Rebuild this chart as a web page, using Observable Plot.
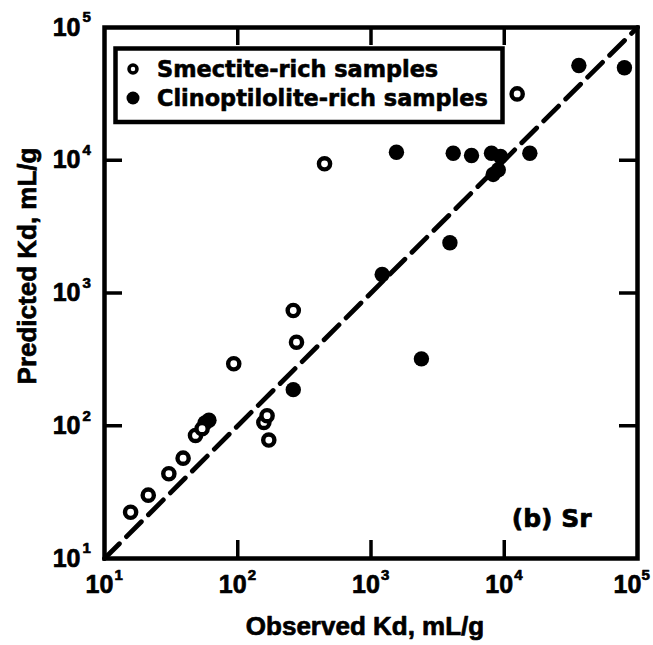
<!DOCTYPE html>
<html>
<head>
<meta charset="utf-8">
<script src="https://cdn.jsdelivr.net/npm/d3@7"></script>
<script src="https://cdn.jsdelivr.net/npm/@observablehq/plot@0.6"></script>
<style>
  html, body { margin: 0; padding: 0; background: white; }
</style>
</head>
<body>
<div id="chart"></div>
<script>
// ---- data ----
const smectiteObserved  = [15.7, 21.3, 30.4, 38.9, 48.2, 54, 157, 166, 171, 93.3, 261, 276, 448, 12500];
const smectitePredicted = [22.3, 30, 43.5, 57, 84.5, 95, 106, 119, 78, 293, 738, 426, 9400, 31600];

const clinoObserved  = [56.8, 60.8, 261, 1213, 2390, 3910, 1552, 4140, 5680, 8020, 9370, 8260, 9020, 15560, 36300, 79800];
const clinoPredicted = [105, 110, 187, 1377, 319, 2390, 11500, 11300, 10870, 11300, 10660, 7820, 8470, 11300, 51700, 49700];

const oneToOne = [10, 100000];
const tickValues = [10, 100, 1000, 10000, 100000];
const tickExponents = ["1", "2", "3", "4", "5"];
const innerTicks = [100, 1000, 10000];

const xTitle = "Observed Kd, mL/g";
const yTitle = "Predicted Kd, mL/g";
const panelLabel = "(b) Sr";
const legendLabels = ["Smectite-rich samples", "Clinoptilolite-rich samples"];

const smectite = smectiteObserved.map((x, i) => ({x, y: smectitePredicted[i]}));
const clino = clinoObserved.map((x, i) => ({x, y: clinoPredicted[i]}));
const ticks = tickValues.map((v, i) => ({v, e: tickExponents[i]}));
const lastTick = tickValues[tickValues.length - 1];

const W = 653, H = 645;
const mL = 104, mR = 16, mT = 27, mB = 87;
const innerH = H - mT - mB;
const innerW = W - mL - mR;
const tickLen = 18;
const sans = "'Liberation Sans', Arial, Helvetica, sans-serif";
const wide = "'DejaVu Sans', Verdana, sans-serif";

const labelStyle = {fontWeight: "bold", fill: "black", stroke: "black", strokeWidth: 0.7, lineAnchor: "middle"};

const chart = Plot.plot({
  width: W,
  height: H,
  marginLeft: mL,
  marginRight: mR,
  marginTop: mT,
  marginBottom: mB,
  style: {background: "white", fontFamily: sans, color: "black"},
  x: {type: "log", domain: [10, 100000], axis: null},
  y: {type: "log", domain: [10, 100000], axis: null},
  marks: [
    // inward ticks on all four sides
    Plot.ruleX(innerTicks, {x: d => d, stroke: "black", strokeWidth: 3.5, insetTop: innerH - tickLen}),
    Plot.ruleX(innerTicks, {x: d => d, stroke: "black", strokeWidth: 3.5, insetBottom: innerH - tickLen}),
    Plot.ruleY(innerTicks, {y: d => d, stroke: "black", strokeWidth: 3.5, insetRight: innerW - tickLen}),
    Plot.ruleY(innerTicks, {y: d => d, stroke: "black", strokeWidth: 3.5, insetLeft: innerW - tickLen}),
    // 1:1 dashed line
    Plot.line(oneToOne, {x: d => d, y: d => d, stroke: "black", strokeWidth: 4.8, strokeDasharray: "21,10"}),
    // clinoptilolite-rich (filled)
    Plot.dot(clino, {x: "x", y: "y", r: 7.7, fill: "black", stroke: "none"}),
    // smectite-rich (open)
    Plot.dot(smectite, {x: "x", y: "y", r: 5.6, fill: "white", stroke: "black", strokeWidth: 4.4}),
    Plot.frame({stroke: "black", strokeWidth: 4.5}),
    // x tick labels
    Plot.text(ticks, {filter: d => d.v < lastTick, x: "v", text: () => "10", frameAnchor: "bottom", dy: 26, dx: -5,
      textAnchor: "middle", fontSize: 25, ...labelStyle}),
    Plot.text(ticks, {filter: d => d.v < lastTick, x: "v", text: "e", frameAnchor: "bottom", dy: 17, dx: 10,
      textAnchor: "start", fontSize: 15, ...labelStyle}),
    Plot.text(ticks, {filter: d => d.v === lastTick, x: "v", text: () => "10", frameAnchor: "bottom", dy: 26, dx: -10,
      textAnchor: "middle", fontSize: 25, ...labelStyle}),
    Plot.text(ticks, {filter: d => d.v === lastTick, x: "v", text: "e", frameAnchor: "bottom", dy: 17, dx: 4,
      textAnchor: "start", fontSize: 15, ...labelStyle}),
    // y tick labels
    Plot.text(ticks, {y: "v", text: () => "10", frameAnchor: "left", dx: -24, dy: 0, textAnchor: "end",
      fontSize: 25, ...labelStyle}),
    Plot.text(ticks, {y: "v", text: "e", frameAnchor: "left", dx: -22, dy: -10, textAnchor: "start",
      fontSize: 15, ...labelStyle}),
    // axis titles
    Plot.text([xTitle], {text: d => d, frameAnchor: "bottom", dy: 68, dx: -6, textAnchor: "middle",
      fontSize: 26, ...labelStyle}),
    Plot.text([yTitle], {text: d => d, frameAnchor: "left", rotate: -90, dx: -77, dy: -27, textAnchor: "middle",
      fontSize: 26, ...labelStyle}),
    // panel label
    Plot.text([panelLabel], {text: d => d, frameAnchor: "bottom-right", dx: -46, dy: -40, textAnchor: "end",
      fontSize: 25, fontFamily: wide, ...labelStyle})
  ]
});

document.getElementById("chart").appendChild(chart);

// legend box inside the plot
const svg = d3.select(chart);
const lg = svg.append("g").attr("aria-label", "legend");
lg.append("rect")
  .attr("x", 115.5).attr("y", 48.5).attr("width", 387).attr("height", 73.5)
  .attr("fill", "white").attr("stroke", "black").attr("stroke-width", 4.5);
lg.append("circle").attr("cx", 133).attr("cy", 69).attr("r", 4)
  .attr("fill", "white").attr("stroke", "black").attr("stroke-width", 3.5);
lg.append("circle").attr("cx", 133).attr("cy", 98).attr("r", 6.5)
  .attr("fill", "black");
legendLabels.forEach((t, i) => {
  lg.append("text")
    .attr("x", 157).attr("y", 77 + i * 29)
    .attr("text-anchor", "start")
    .attr("font-family", wide).attr("font-weight", "bold").attr("font-size", 22.4)
    .attr("fill", "black").attr("stroke", "black").attr("stroke-width", 0.6)
    .text(t);
});
</script>
</body>
</html>
